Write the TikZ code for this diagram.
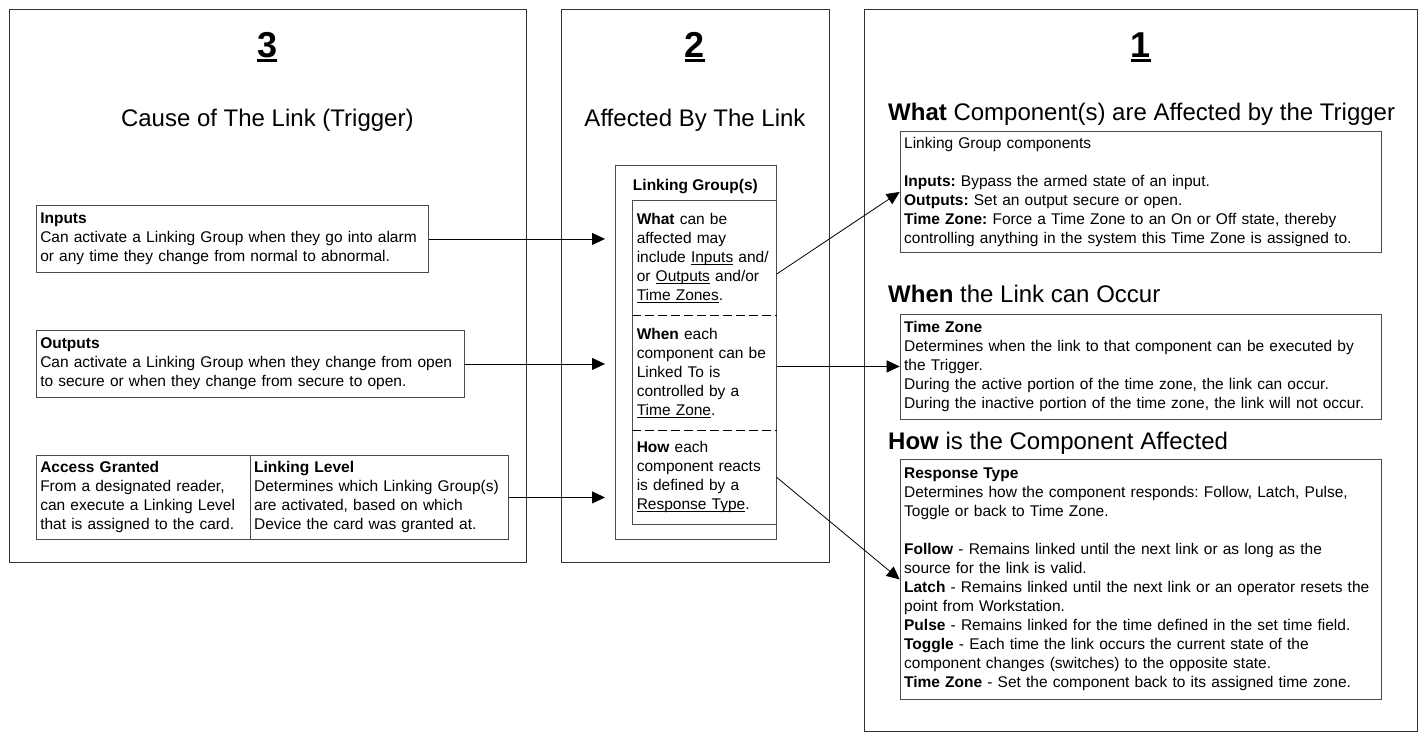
\documentclass[tikz,border=0pt]{standalone}
\usepackage{fontspec}
\setmainfont{Liberation Sans}
\usetikzlibrary{arrows.meta}
\frenchspacing

\newsavebox{\ulbox}
\newcommand{\ulword}[1]{\leavevmode\sbox{\ulbox}{#1}\rlap{\rule[-2.4pt]{\wd\ulbox}{0.9pt}}\usebox{\ulbox}}
\newcommand{\ultitle}[1]{\leavevmode\sbox{\ulbox}{#1}\rlap{\rule[-4.6pt]{\wd\ulbox}{2.6pt}}\usebox{\ulbox}}

\tikzset{
  panel/.style={draw=black!80, line width=1.4pt, anchor=north west, inner sep=0pt},
  txtbox/.style={draw=black!70, line width=0.9pt, anchor=north west, align=left,
    inner xsep=4pt, inner ysep=0pt, font=\fontsize{15.5}{19}\selectfont},
  grpsec/.style={txtbox, draw=none, text width=135.4pt},
  paneltitle/.style={anchor=base, font=\fontsize{36}{40}\selectfont\bfseries},
  panelhead/.style={anchor=base, inner xsep=0pt, font=\fontsize{24}{28}\selectfont},
  linkline/.style={line width=0.8pt},
  sepline/.style={line width=1.1pt, dash pattern=on 9pt off 4pt},
}

\begin{document}
\begin{tikzpicture}
  [x=1pt, y=-1pt,
   >={Triangle[length=13pt,width=12pt]}]
  \useasboundingbox (0,0) rectangle (1425,736);

  \node[panel, minimum width=517.4pt, minimum height=553pt] (cause)    at (8.6,9) {};
  \node[panel, minimum width=268pt,   minimum height=553pt] (affected) at (561,9) {};
  \node[panel, minimum width=553pt,   minimum height=722pt] (effect)   at (864,9) {};

  \node[paneltitle] (num3) at (267.3,57)  {\ultitle{3}};
  \node[paneltitle] (num2) at (695,57)    {\ultitle{2}};
  \node[paneltitle] (num1) at (1140.5,57) {\ultitle{1}};

  \node[panelhead] (head3) at (267.3,126) {Cause of The Link (Trigger)};
  \node[panelhead] (head2) at (695,126)   {Affected By The Link};
  \node[panelhead, anchor=base west] (headwhat) at (888,120) {\textbf{What} Component(s) are Affected by the Trigger};
  \node[panelhead, anchor=base west] (headwhen) at (888,302) {\textbf{When} the Link can Occur};
  \node[panelhead, anchor=base west] (headhow)  at (888,449) {\textbf{How} is the Component Affected};

  \node[txtbox, text width=384.2pt, minimum height=67pt] (inputs) at (35.8,205)
    {\textbf{Inputs}\\Can activate a Linking Group when they go into alarm\\or any time they change from normal to abnormal.};
  \node[txtbox, text width=419.7pt, minimum height=67pt] (outputs) at (35.8,330)
    {\textbf{Outputs}\\Can activate a Linking Group when they change from open\\to secure or when they change from secure to open.};
  \node[txtbox, text width=205.9pt, minimum height=84pt] (access) at (35.8,455)
    {\textbf{Access Granted}\\From a designated reader,\\can execute a Linking Level\\that is assigned to the card.};
  \node[txtbox, text width=250.3pt, minimum height=84pt] (level) at (249.7,455)
    {\textbf{Linking Level}\\Determines which Linking Group(s)\\are activated, based on which\\Device the card was granted at.};

  \node[txtbox, minimum width=160.7pt, minimum height=374.3pt] (group) at (615,165) {};
  \node[anchor=base, font=\fontsize{15.5}{19}\selectfont\bfseries] (grptitle) at (695.4,190) {Linking Group(s)};
  \node[grpsec, minimum height=114.3pt] (grpwhat) at (632.3,200)
    {\textbf{What} can be\\affected may\\include \ulword{Inputs} and/\\or \ulword{Outputs} and/or\\\ulword{Time Zones}.};
  \node[grpsec, minimum height=114pt] (grpwhen) at (grpwhat.south west)
    {\textbf{When} each\\component can be\\Linked To is\\controlled by a\\\ulword{Time Zone}.};
  \node[grpsec, minimum height=93.4pt] (grphow) at (grpwhen.south west)
    {\textbf{How} each\\component reacts\\is defined by a\\\ulword{Response Type}.};
  \draw[draw=black!70, line width=0.9pt] (grpwhat.north west) rectangle (grphow.south east);
  \draw[sepline] (grpwhat.south west) -- (grpwhat.south east);
  \draw[sepline] (grpwhen.south west) -- (grpwhen.south east);

  \node[txtbox, text width=473.3pt, minimum height=121pt] (whatbox) at (899.7,131)
    {Linking Group components\\[19pt]\textbf{Inputs:} Bypass the armed state of an input.\\\textbf{Outputs:} Set an output secure or open.\\\textbf{Time Zone:} Force a Time Zone to an On or Off state, thereby\\controlling anything in the system this Time Zone is assigned to.};
  \node[txtbox, text width=473.3pt, minimum height=105pt] (tzbox) at (899.7,313.5)
    {\textbf{Time Zone}\\Determines when the link to that component can be executed by\\the Trigger.\\During the active portion of the time zone, the link can occur.\\During the inactive portion of the time zone, the link will not occur.};
  \node[txtbox, text width=473.3pt, minimum height=240pt] (respbox) at (899.7,459)
    {\textbf{Response Type}\\Determines how the component responds: Follow, Latch, Pulse,\\Toggle or back to Time Zone.\\[19pt]\textbf{Follow} - Remains linked until the next link or as long as the\\source for the link is valid.\\\textbf{Latch} - Remains linked until the next link or an operator resets the\\point from Workstation.\\\textbf{Pulse} - Remains linked for the time defined in the set time field.\\\textbf{Toggle} - Each time the link occurs the current state of the\\component changes (switches) to the opposite state.\\\textbf{Time Zone} - Set the component back to its assigned time zone.};

  \coordinate (tipx) at (605,0);
  \draw[->,linkline] (inputs.east)  -- (inputs.east -| tipx);
  \draw[->,linkline] (outputs.east) -- (outputs.east -| tipx);
  \draw[->,linkline] (level.east)   -- (level.east -| tipx);
  \draw[->,linkline] ([yshift=-16.5pt]grpwhat.east) -- (whatbox.west);
  \draw[->,linkline] (grpwhen.east |- tzbox.west)   -- (tzbox.west);
  \draw[->,linkline] (grphow.east)                  -- (respbox.west);
\end{tikzpicture}
\end{document}
